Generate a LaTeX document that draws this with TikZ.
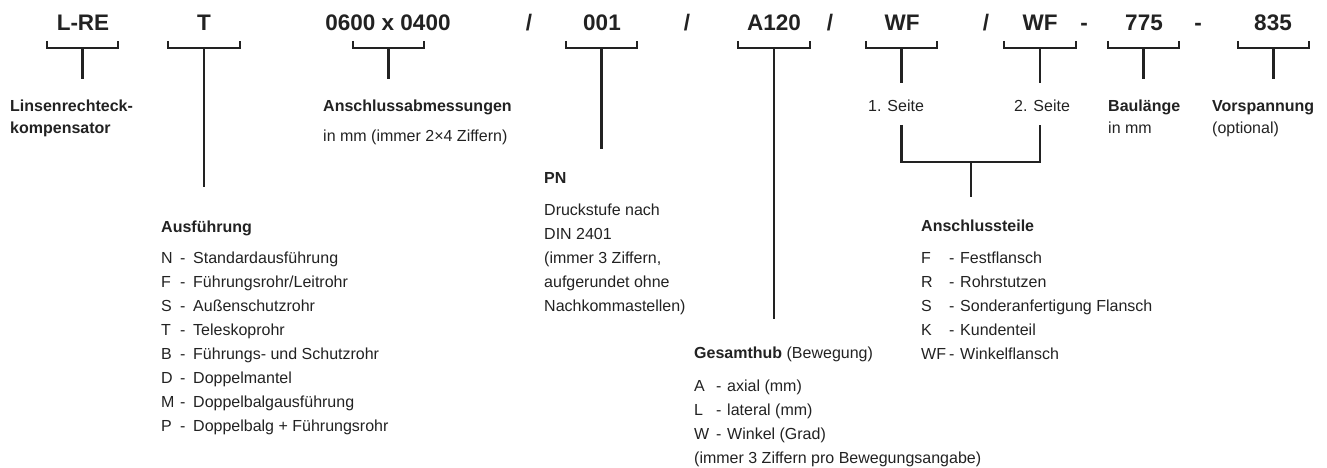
\documentclass[tikz,border=0pt]{standalone}
\usepackage{fontspec}
\setmainfont{Liberation Sans}
\definecolor{ink}{HTML}{222222}
\begin{document}
\begin{tikzpicture}[x=1pt,y=-1pt,
  code/.style={font=\fontsize{22.5}{26}\selectfont\bfseries, anchor=base, inner sep=0pt, text=ink},
  lbl/.style={font=\fontsize{16}{24}\selectfont, anchor=base west, inner sep=0pt, text=ink},
  blbl/.style={font=\fontsize{16}{24}\selectfont\bfseries, anchor=base west, inner sep=0pt, text=ink},
  ln/.style={draw=ink, line width=2.4pt, line join=miter}]
\useasboundingbox (0,0) rectangle (1327,468);
% top row
\node[code] (c1) at (83,31) {L-RE};
\node[code] (c2) at (204,31) {T};
\node[code] (c3) at (388,31) {0600 x 0400};
\node[code] (p1) at (529,31) {/};
\node[code] (c4) at (602,31) {001};
\node[code] (p2) at (687,31) {/};
\node[code] (c5) at (774,31) {A120};
\node[code] (p3) at (830,31) {/};
\node[code] (c6) at (902,31) {WF};
\node[code] (p4) at (986,31) {/};
\node[code] (c7) at (1040,31) {WF};
\node[code] (p5) at (1084,31) {-};
\node[code] (c8) at (1144,31) {775};
\node[code] (p6) at (1198,31) {-};
\node[code] (c9) at (1273,31) {835};
% brackets and stems
\foreach \i/\a/\b/\e in {1/47/118/79, 2/168/240/187, 3/353/424/79, 4/566/637/149, 5/738/810/319, 6/866/937/83, 7/1004/1076/83, 8/1108/1179/79, 9/1238/1309/79}{
  \draw[ln] (\a,41) |- (\b,48) -- (\b,41);
  \coordinate (s\i) at ({(\a+\b)/2},48);
  \coordinate (e\i) at ({(\a+\b)/2},\e);
  \draw[ln] (s\i) -- (e\i);
}
% lower bracket for Anschlussteile
\coordinate (u1) at (901.5,125);
\coordinate (u2) at (1040,125);
\coordinate (um) at (971,162);
\coordinate (ue) at (971,197);
\draw[ln] (u1) |- (um) -| (u2);
\draw[ln] (um) -- (ue);
% upper labels
\node[blbl] (l1a) at (10,112) {Linsenrechteck-};
\node[blbl] (l1b) at (10,133) {kompensator};
\node[blbl] (l3a) at (323,112) {Anschlussabmessungen};
\node[lbl] (l3b) at (323,141) {in mm (immer 2×4 Ziffern)};
\node[lbl] (l6) at (868,112) {1. Seite};
\node[lbl] (l7) at (1014,112) {2. Seite};
\node[blbl] (l8a) at (1108,112) {Baulänge};
\node[lbl] (l8b) at (1108,133) {in mm};
\node[blbl] (l9a) at (1212,112) {Vorspannung};
\node[lbl] (l9b) at (1212,133) {(optional)};
% Ausführung
\node[blbl] (aus) at (161,232) {Ausführung};
\foreach \k/\l/\t in {0/N/Standardausführung, 1/F/Führungsrohr\slash Leitrohr, 2/S/Außenschutzrohr, 3/T/Teleskoprohr, 4/B/Führungs- und Schutzrohr, 5/D/Doppelmantel, 6/M/Doppelbalgausführung, 7/P/Doppelbalg + Führungsrohr}{
  \node[lbl] (ausL\k) at (161,263+24*\k) {\l};
  \node[lbl] (ausD\k) at (180,263+24*\k) {-};
  \node[lbl] (ausT\k) at (193,263+24*\k) {\t};
}
% PN
\node[blbl] (pn) at (544,183) {PN};
\foreach \k/\t in {0/Druckstufe nach, 1/DIN 2401, 2/{(immer 3 Ziffern,}, 3/aufgerundet ohne, 4/Nachkommastellen)}{
  \node[lbl] (pn\k) at (544,215+24*\k) {\t};
}
% Gesamthub
\node[lbl] (ges) at (694,358) {\textbf{Gesamthub} (Bewegung)};
\foreach \k/\l/\t in {0/A/axial (mm), 1/L/lateral (mm), 2/W/Winkel (Grad)}{
  \node[lbl] (gesL\k) at (694,391+24*\k) {\l};
  \node[lbl] (gesD\k) at (716,391+24*\k) {-};
  \node[lbl] (gesT\k) at (727,391+24*\k) {\t};
}
\node[lbl] (ges3) at (694,463) {(immer 3 Ziffern pro Bewegungsangabe)};
% Anschlussteile
\node[blbl] (ant) at (921,231) {Anschlussteile};
\foreach \k/\l/\t in {0/F/Festflansch, 1/R/Rohrstutzen, 2/S/Sonderanfertigung Flansch, 3/K/Kundenteil, 4/WF/Winkelflansch}{
  \node[lbl] (antL\k) at (921,263+24*\k) {\l};
  \node[lbl] (antD\k) at (949,263+24*\k) {-};
  \node[lbl] (antT\k) at (960,263+24*\k) {\t};
}
\end{tikzpicture}
\end{document}
